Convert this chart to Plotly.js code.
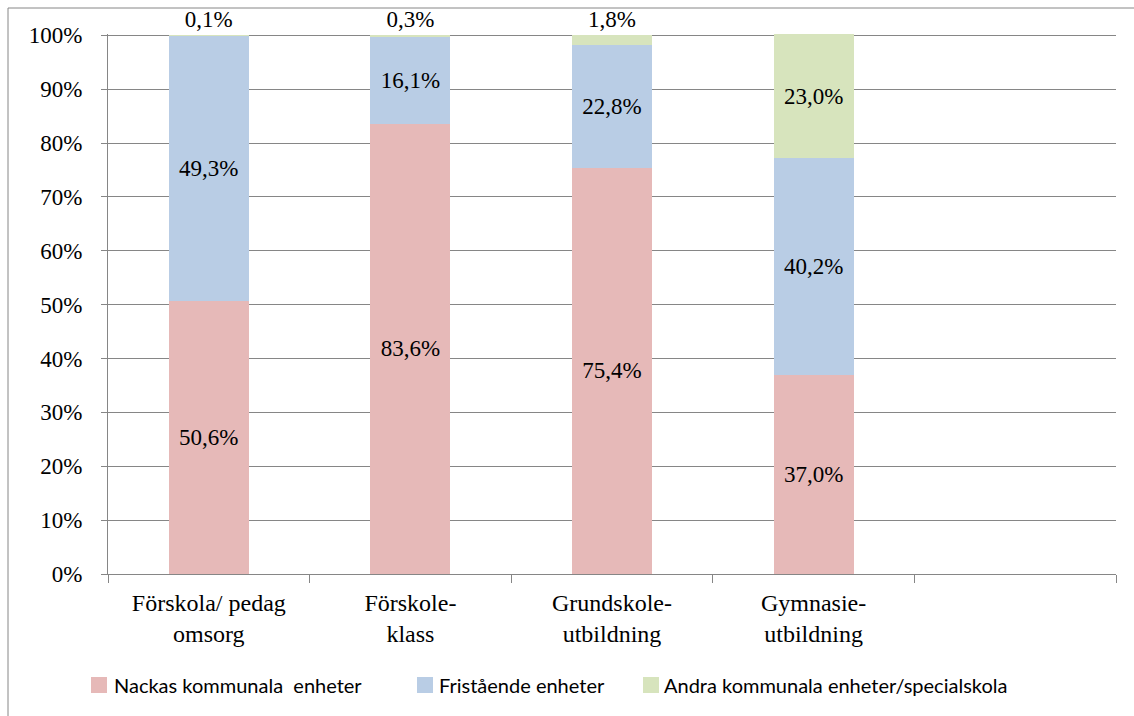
<!DOCTYPE html>
<html>
<head>
<meta charset="utf-8">
<script src="https://cdn.plot.ly/plotly-3.0.1.min.js"></script>
<style>
  html, body { margin: 0; padding: 0; background: #fff; }
  #chart { width: 1134px; height: 716px; }
</style>
</head>
<body>
<div id="chart"></div>
<script>
const categories = ['Förskola/ pedag<br>omsorg', 'Förskole-<br>klass', 'Grundskole-<br>utbildning', 'Gymnasie-<br>utbildning'];
const emptySlot = ' ';
const seriesNames = ['Nackas kommunala  enheter', 'Fristående enheter', 'Andra kommunala enheter/specialskola'];
const nackas = [50.6, 83.6, 75.4, 37.0];
const fristaende = [49.3, 16.1, 22.8, 40.2];
const andra = [0.1, 0.3, 1.8, 23.0];
const yTicks = [0, 10, 20, 30, 40, 50, 60, 70, 80, 90, 100];

const colors = ['#E6B9B8', '#B9CDE5', '#D7E4BD'];
const serif = 'Liberation Serif, serif';
const sans = 'Lato, Liberation Sans, sans-serif';

// plot area geometry (pixels); y range slightly above 100 so the 100.2 stack is not cut
const yMax = 100.25;
const L = 108, R = 1116, B = 574;
const T = Math.round(B - (B - 35) * yMax / 100);
const px = x => (x - L) / (R - L);
const py = y => (B - y) / (B - T);

function mk(name, vals, color, pos) {
  return {
    type: 'bar', name: name, x: categories, y: vals,
    marker: { color: color, line: { width: 0 } },
    texttemplate: '%{y:.1f}%',
    textposition: pos,
    insidetextanchor: 'middle',
    textangle: 0,
    constraintext: 'none',
    cliponaxis: false,
    textfont: { family: serif, size: 23, color: '#000' },
    insidetextfont: { family: serif, size: 23, color: '#000' },
    outsidetextfont: { family: serif, size: 23, color: '#000' },
    hoverinfo: 'skip',
    showlegend: false
  };
}

const andraPos = andra.map(v => v < 5 ? 'outside' : 'inside');

const data = [
  mk(seriesNames[0], nackas, colors[0], 'inside'),
  mk(seriesNames[1], fristaende, colors[1], 'inside'),
  mk(seriesNames[2], andra, colors[2], andraPos)
];

// custom legend (swatch + label), positioned like the reference
const legendSwatchX = [91, 417, 643];
const legendTextX = [112, 437, 662];
const legendY = 685;
const shapes = [{
  type: 'rect', xref: 'paper', yref: 'paper',
  x0: px(8), x1: px(1200), y0: py(800), y1: py(8),
  line: { color: '#868686', width: 1 }, fillcolor: 'rgba(0,0,0,0)', layer: 'below'
}];
const annotations = [];
seriesNames.forEach((n, i) => {
  shapes.push({
    type: 'rect', xref: 'paper', yref: 'paper',
    x0: px(legendSwatchX[i]), x1: px(legendSwatchX[i] + 16),
    y0: py(legendY + 8), y1: py(legendY - 8),
    line: { width: 0 }, fillcolor: colors[i]
  });
  annotations.push({
    xref: 'paper', yref: 'paper', x: px(legendTextX[i]), y: py(legendY),
    xanchor: 'left', yanchor: 'middle', showarrow: false,
    text: n, font: { family: sans, size: 20, color: '#000' }
  });
});

const layout = {
  width: 1134, height: 716,
  margin: { l: L, r: 1134 - R, t: T, b: 716 - B },
  paper_bgcolor: '#fff', plot_bgcolor: '#fff',
  barmode: 'stack',
  bargap: 0.603,
  separators: ', ',
  showlegend: false,
  xaxis: {
    type: 'category',
    categoryorder: 'array',
    categoryarray: categories.concat([emptySlot]),
    range: [-0.5, 4.5],
    tickson: 'boundaries',
    ticks: 'outside', ticklen: 8, tickcolor: '#868686', tickwidth: 1,
    ticklabelstandoff: 7,
    showline: true, linecolor: '#868686', linewidth: 1,
    showgrid: false, zeroline: false,
    tickfont: { family: serif, size: 24, color: '#000' },
    fixedrange: true
  },
  yaxis: {
    range: [0, yMax],
    tickvals: yTicks,
    ticktext: yTicks.map(v => v + '%'),
    ticks: 'outside', ticklen: 6, tickcolor: '#868686',
    ticklabelstandoff: 14,
    showline: true, linecolor: '#868686', linewidth: 1,
    showgrid: true, gridcolor: '#868686', gridwidth: 1,
    zeroline: false,
    tickfont: { family: serif, size: 23, color: '#000' },
    fixedrange: true
  },
  shapes: shapes,
  annotations: annotations
};

Plotly.newPlot('chart', data, layout, { displayModeBar: false, staticPlot: true });
</script>
</body>
</html>
